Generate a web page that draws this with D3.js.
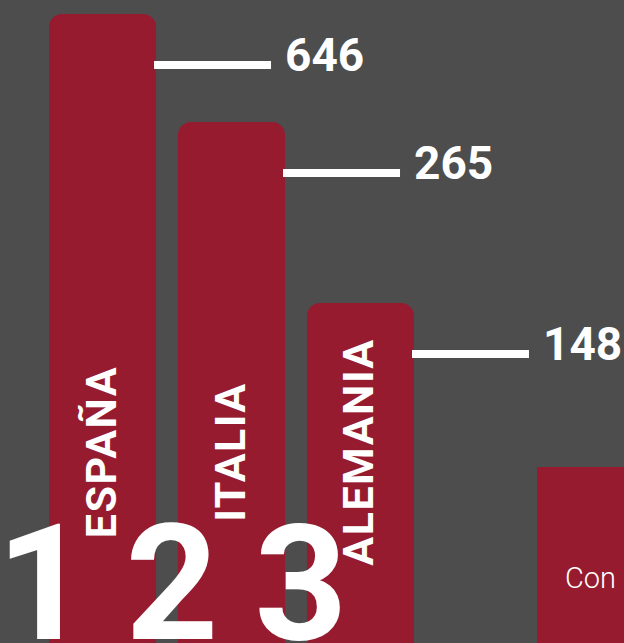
<!DOCTYPE html>
<html>
<head>
<meta charset="utf-8">
<script src="https://cdn.jsdelivr.net/npm/d3@7"></script>
<style>
  html, body { margin: 0; padding: 0; background: #4d4d4d; overflow: hidden; }
  text { font-family: Roboto, "Open Sans", sans-serif; fill: #fff; }
</style>
</head>
<body>
<div id="chart"></div>
<script>
// data
var countries = ["ESPAÑA", "ITALIA", "ALEMANIA"]
var values = [646, 265, 148]
var ranks = ["1", "2", "3"]

var width = 624
height = 643
barColor = "#961b2f"

var data = countries.map(function (c, i) {
    return { country: c, value: values[i], rank: ranks[i] }
})

var svg = d3.select("#chart")
    .append("svg")
    .attr("width", width)
    .attr("height", height)

svg.append("rect")
    .attr("width", width)
    .attr("height", height)
    .attr("fill", "#4d4d4d")

// x: one band per country
var x = d3.scaleBand()
    .domain(countries)
    .range([49, 414])
    .paddingInner(0.17)
    .paddingOuter(0)

// y: the infographic is not proportional, so a piecewise scale through the values
var y = d3.scaleLinear()
    .domain(d3.sort(values))
    .range([303, 122, 14])

var lineGap = 51

// bars (bottom runs past the page edge, only the top corners show)
svg.selectAll("bars")
    .data(data)
    .enter()
    .append("rect")
    .attr("x", d => x(d.country))
    .attr("y", d => y(d.value))
    .attr("width", x.bandwidth())
    .attr("height", d => height + 40 - y(d.value))
    .attr("rx", 13)
    .attr("fill", barColor)

// leader lines
svg.selectAll("leaders")
    .data(data)
    .enter()
    .append("line")
    .attr("x1", d => x(d.country) + x.bandwidth() - 2)
    .attr("x2", d => x(d.country) + x.bandwidth() + 115)
    .attr("y1", d => y(d.value) + lineGap)
    .attr("y2", d => y(d.value) + lineGap)
    .attr("stroke", "#fff")
    .attr("stroke-width", 8)

// value labels
svg.selectAll("values")
    .data(data)
    .enter()
    .append("text")
    .text(d => d.value)
    .attr("x", d => x(d.country) + x.bandwidth() + 129)
    .attr("y", d => y(d.value) + lineGap + 6)
    .style("font-size", "46px")
    .style("font-weight", 700)

// country names, rotated inside the bars
svg.selectAll("names")
    .data(data)
    .enter()
    .append("text")
    .text(d => d.country)
    .attr("transform", d => "translate(" + (x(d.country) + x.bandwidth() / 2 + 13) + ",452) rotate(-90)")
    .style("text-anchor", "middle")
    .style("font-size", "43px")
    .style("letter-spacing", "1.5px")
    .style("font-weight", 700)

// big rank numbers
svg.selectAll("ranks")
    .data(data)
    .enter()
    .append("text")
    .text(d => d.rank)
    .attr("x", d => x(d.country) - 6)
    .attr("y", 639)
    .style("text-anchor", "middle")
    .style("font-size", "162px")
    .style("font-weight", 700)

// next panel, cut off at the right edge
svg.append("rect")
    .attr("x", 537)
    .attr("y", 467)
    .attr("width", 120)
    .attr("height", 220)
    .attr("fill", barColor)

svg.append("text")
    .text("Con")
    .attr("x", 565)
    .attr("y", 588)
    .style("font-size", "29px")
    .style("font-weight", 300)
</script>
</body>
</html>
